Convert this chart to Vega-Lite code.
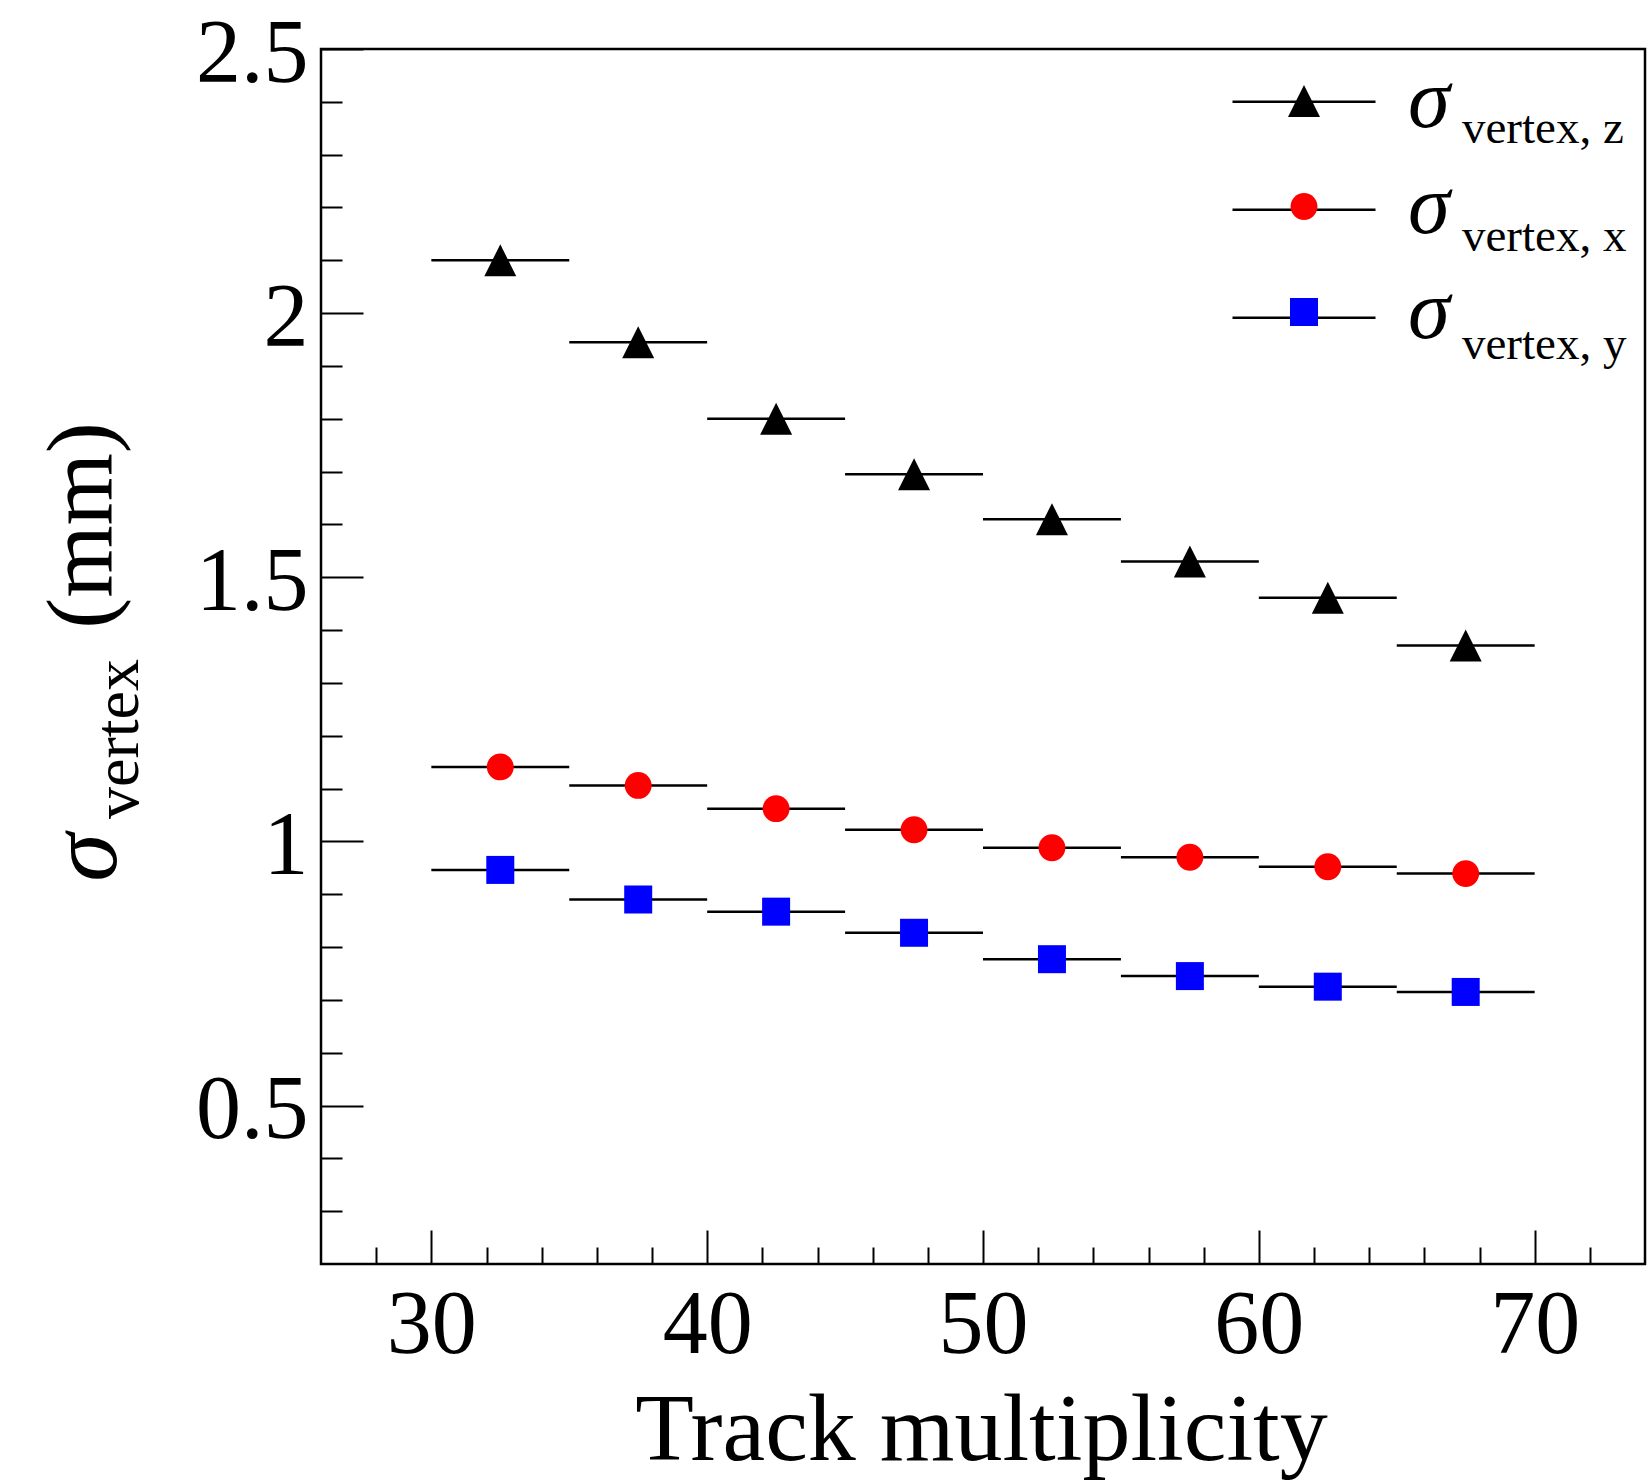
{
  "$schema": "https://vega.github.io/schema/vega-lite/v6.json",
  "width": 1324,
  "height": 1215,
  "autosize": {"type": "none"},
  "padding": {"left": 321, "top": 49, "right": 4, "bottom": 218},
  "background": "white",
  "config": {
    "view": {"stroke": "black", "strokeWidth": 2.5},
    "axis": {
      "grid": false,
      "domain": false,
      "tickColor": "black",
      "tickWidth": 2,
      "labelFont": "Liberation Serif",
      "titleFont": "Liberation Serif",
      "labelColor": "black",
      "titleColor": "black",
      "titleFontWeight": "normal"
    },
    "legend": {"padding": 0, "labelLimit": 0, "labelColor": "black", "labelFont": "Liberation Serif"}
  },
  "data": {
    "values": [
      {"comp": "z", "mult": 32.5, "lo": 30, "hi": 35, "val": 2.10},
      {"comp": "z", "mult": 37.5, "lo": 35, "hi": 40, "val": 1.945},
      {"comp": "z", "mult": 42.5, "lo": 40, "hi": 45, "val": 1.80},
      {"comp": "z", "mult": 47.5, "lo": 45, "hi": 50, "val": 1.695},
      {"comp": "z", "mult": 52.5, "lo": 50, "hi": 55, "val": 1.61},
      {"comp": "z", "mult": 57.5, "lo": 55, "hi": 60, "val": 1.53},
      {"comp": "z", "mult": 62.5, "lo": 60, "hi": 65, "val": 1.461},
      {"comp": "z", "mult": 67.5, "lo": 65, "hi": 70, "val": 1.371},
      {"comp": "x", "mult": 32.5, "lo": 30, "hi": 35, "val": 1.141},
      {"comp": "x", "mult": 37.5, "lo": 35, "hi": 40, "val": 1.106},
      {"comp": "x", "mult": 42.5, "lo": 40, "hi": 45, "val": 1.062},
      {"comp": "x", "mult": 47.5, "lo": 45, "hi": 50, "val": 1.022},
      {"comp": "x", "mult": 52.5, "lo": 50, "hi": 55, "val": 0.988},
      {"comp": "x", "mult": 57.5, "lo": 55, "hi": 60, "val": 0.970},
      {"comp": "x", "mult": 62.5, "lo": 60, "hi": 65, "val": 0.952},
      {"comp": "x", "mult": 67.5, "lo": 65, "hi": 70, "val": 0.939},
      {"comp": "y", "mult": 32.5, "lo": 30, "hi": 35, "val": 0.946},
      {"comp": "y", "mult": 37.5, "lo": 35, "hi": 40, "val": 0.890},
      {"comp": "y", "mult": 42.5, "lo": 40, "hi": 45, "val": 0.867},
      {"comp": "y", "mult": 47.5, "lo": 45, "hi": 50, "val": 0.827},
      {"comp": "y", "mult": 52.5, "lo": 50, "hi": 55, "val": 0.777},
      {"comp": "y", "mult": 57.5, "lo": 55, "hi": 60, "val": 0.745},
      {"comp": "y", "mult": 62.5, "lo": 60, "hi": 65, "val": 0.725},
      {"comp": "y", "mult": 67.5, "lo": 65, "hi": 70, "val": 0.715}
    ]
  },
  "layer": [
    {
      "mark": {"type": "rule", "strokeWidth": 2.5},
      "encoding": {
        "x": {
          "field": "lo", "type": "quantitative",
          "scale": {"domain": [26, 74], "nice": false, "zero": false},
          "axis": {
            "orient": "bottom",
            "values": [30, 40, 50, 60, 70],
            "tickSize": -34,
            "labelFontSize": 90,
            "labelPadding": 122,
            "labelBaseline": "alphabetic",
            "labelFlush": false,
            "labelOverlap": false,
            "title": "Track multiplicity",
            "titleFontSize": 96,
            "titleX": 660,
            "titleY": 195,
            "titleAngle": 0,
            "titleAlign": "center",
            "titleBaseline": "alphabetic"
          }
        },
        "x2": {"field": "hi"},
        "y": {
          "field": "val", "type": "quantitative",
          "scale": {"domain": [0.2, 2.5], "nice": false, "zero": false},
          "axis": {
            "orient": "left",
            "values": [0.3, 0.4, 0.6, 0.7, 0.8, 0.9, 1.1, 1.2, 1.3, 1.4, 1.6, 1.7, 1.8, 1.9, 2.1, 2.2, 2.3, 2.4],
            "tickSize": -21,
            "labels": false,
            "title": "vertex",
            "titleFontSize": 64,
            "titleX": -184,
            "titleY": 689.5,
            "titleAngle": 270,
            "titleAlign": "center",
            "titleBaseline": "alphabetic"
          }
        },
        "color": {
          "field": "comp", "type": "nominal",
          "scale": {"domain": ["z", "x", "y"], "range": ["black", "black", "black"]},
          "legend": {
            "orient": "none",
            "legendX": 959.5,
            "legendY": 56.5,
            "title": null,
            "labelExpr": "'vertex, ' + datum.label",
            "labelFontSize": 47,
            "labelOffset": 134.5,
            "rowPadding": 52,
            "symbolType": "M-14.3,-5.46H14.3",
            "symbolSize": 100,
            "symbolStrokeWidth": 2.5,
            "symbolStrokeColor": "black"
          }
        }
      }
    },
    {
      "mark": {"type": "point", "filled": true, "opacity": 1, "strokeWidth": 0, "size": 1024},
      "encoding": {
        "x": {
          "field": "mult", "type": "quantitative",
          "scale": {"domain": [26, 74], "nice": false, "zero": false},
          "axis": {
            "orient": "bottom",
            "values": [28, 32, 34, 36, 38, 42, 44, 46, 48, 52, 54, 56, 58, 62, 64, 66, 68, 72],
            "tickSize": -17,
            "labels": false,
            "title": "σ",
            "titleFontSize": 98,
            "titleFontStyle": "italic",
            "titleX": -206,
            "titleY": -407,
            "titleAngle": 270,
            "titleAlign": "center",
            "titleBaseline": "alphabetic"
          }
        },
        "y": {
          "field": "val", "type": "quantitative",
          "scale": {"domain": [0.2, 2.5], "nice": false, "zero": false},
          "axis": {
            "orient": "left",
            "values": [0.5, 1, 1.5, 2, 2.5],
            "format": "~g",
            "tickSize": -42,
            "labelFontSize": 90,
            "labelPadding": 55,
            "labelOffset": 5,
            "labelFlush": false,
            "labelOverlap": false,
            "title": "(mm)",
            "titleFontSize": 93,
            "titleX": -211,
            "titleY": 476,
            "titleAngle": 270,
            "titleAlign": "center",
            "titleBaseline": "alphabetic"
          }
        },
        "color": {
          "field": "comp", "type": "nominal",
          "scale": {"domain": ["z", "x", "y"], "range": ["#000000", "#ff0000", "#0000ff"]},
          "legend": {
            "orient": "none",
            "legendX": 940.5,
            "legendY": 9.5,
            "title": null,
            "labelExpr": "'σ'",
            "labelFontSize": 85,
            "labelFontStyle": "italic",
            "labelOffset": 61.5,
            "rowPadding": 19.5,
            "symbolSize": 1024,
            "symbolStrokeWidth": 0
          }
        },
        "shape": {
          "field": "comp", "type": "nominal",
          "scale": {
            "domain": ["z", "x", "y"],
            "range": [
              "M0,-1L1,1L-1,1Z",
              "M-0.84,0A0.84,0.84 0 1,0 0.84,0A0.84,0.84 0 1,0 -0.84,0Z",
              "M-0.875,-0.875H0.875V0.875H-0.875Z"
            ]
          }
        }
      }
    }
  ],
  "resolve": {
    "scale": {"color": "independent", "shape": "independent"},
    "axis": {"x": "independent", "y": "independent"}
  }
}
